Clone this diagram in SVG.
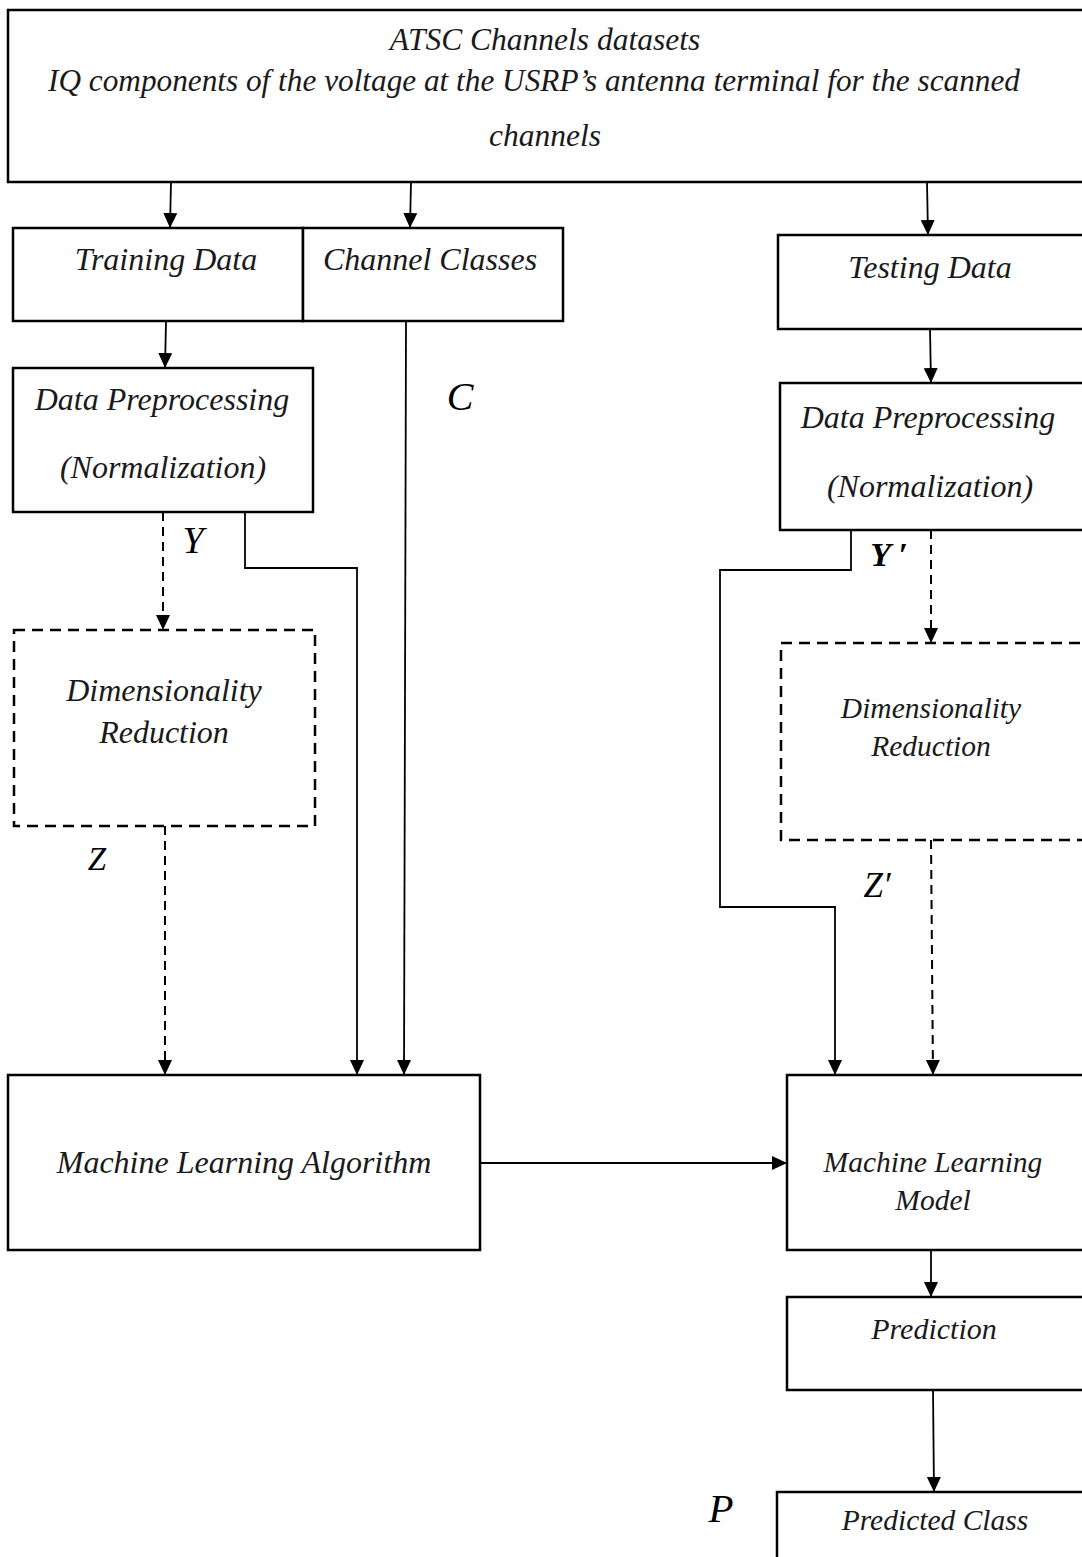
<svg xmlns="http://www.w3.org/2000/svg" width="1082" height="1557" viewBox="0 0 1082 1557">
  <style>
    .box { fill: #fff; stroke: #000; stroke-width: 2.5; }
    .dbox { fill: #fff; stroke: #000; stroke-width: 2.5; stroke-dasharray: 11 7; }
    .t { font-family: "Liberation Serif", "Times New Roman", serif; font-style: italic; fill: #1a1a1a; text-anchor: middle; font-size: 32px; }
    .s { font-size: 29.5px; }
    .lbl { font-family: "Liberation Serif", "Times New Roman", serif; font-style: italic; fill: #000; text-anchor: middle; }
    .c { fill: none; stroke: #000; stroke-width: 1.8; }
    .cd { fill: none; stroke: #000; stroke-width: 2; stroke-dasharray: 9 6; }
  </style>
  <defs>
    <marker id="arr" markerUnits="userSpaceOnUse" markerWidth="16" markerHeight="16" refX="15" refY="7" orient="auto">
      <path d="M0,0 L15,7 L0,14 Z" fill="#000"/>
    </marker>
  </defs>
  <rect width="1082" height="1557" fill="#fff"/>

  <!-- connectors -->
  <g id="connectors">
    <line class="c" x1="171" y1="182" x2="170" y2="228" marker-end="url(#arr)"/>
    <line class="c" x1="411" y1="182" x2="410" y2="228" marker-end="url(#arr)"/>
    <line class="c" x1="927" y1="182" x2="928" y2="235" marker-end="url(#arr)"/>
    <line class="c" x1="166" y1="321" x2="165" y2="368" marker-end="url(#arr)"/>
    <line class="c" x1="406" y1="321" x2="404" y2="1075" marker-end="url(#arr)"/>
    <line class="cd" x1="163" y1="512" x2="163" y2="630" marker-end="url(#arr)"/>
    <polyline class="c" points="245,512 245,568 357,568 357,1075" marker-end="url(#arr)"/>
    <line class="cd" x1="165" y1="826" x2="165" y2="1075" marker-end="url(#arr)"/>
    <line class="c" x1="930" y1="329" x2="931" y2="383" marker-end="url(#arr)"/>
    <polyline class="c" points="851,530 851,570 720,570 720,907 835,907 835,1075" marker-end="url(#arr)"/>
    <line class="cd" x1="931" y1="530" x2="931" y2="643" marker-end="url(#arr)"/>
    <line class="cd" x1="931" y1="840" x2="933" y2="1075" marker-end="url(#arr)"/>
    <line class="c" x1="480" y1="1163" x2="787" y2="1163" marker-end="url(#arr)"/>
    <line class="c" x1="931" y1="1250" x2="931" y2="1297" marker-end="url(#arr)"/>
    <line class="c" x1="933" y1="1390" x2="934" y2="1492" marker-end="url(#arr)"/>
  </g>

  <!-- source data -->
  <g id="atsc-datasets">
    <rect class="box" x="8" y="10" width="1080" height="172"/>
    <text class="t" x="545" y="50" style="font-size:31.5px">ATSC Channels datasets</text>
    <text class="t" x="534" y="91" style="font-size:31.5px" textLength="972" lengthAdjust="spacingAndGlyphs">IQ components of the voltage at the USRP’s antenna terminal for the scanned</text>
    <text class="t" x="545" y="146" style="font-size:31.5px">channels</text>
  </g>

  <g id="training-data">
    <rect class="box" x="13" y="228" width="290" height="93"/>
    <text class="t" x="166" y="270">Training Data</text>
  </g>
  <g id="channel-classes">
    <rect class="box" x="303" y="228" width="260" height="93"/>
    <text class="t" x="430" y="270">Channel Classes</text>
  </g>
  <g id="testing-data">
    <rect class="box" x="778" y="235" width="310" height="94"/>
    <text class="t" x="930" y="278">Testing Data</text>
  </g>

  <!-- training branch -->
  <g id="preprocessing-train">
    <rect class="box" x="13" y="368" width="300" height="144"/>
    <text class="t" x="162" y="410">Data Preprocessing</text>
    <text class="t" x="163" y="478">(Normalization)</text>
  </g>
  <g id="dimred-train">
    <rect class="dbox" x="14" y="630" width="301" height="196"/>
    <text class="t" x="164" y="701">Dimensionality</text>
    <text class="t" x="164" y="743">Reduction</text>
  </g>
  <g id="ml-algorithm">
    <rect class="box" x="8" y="1075" width="472" height="175"/>
    <text class="t" x="244" y="1173">Machine Learning Algorithm</text>
  </g>

  <!-- testing branch -->
  <g id="preprocessing-test">
    <rect class="box" x="780" y="383" width="308" height="147"/>
    <text class="t" x="928" y="428">Data Preprocessing</text>
    <text class="t" x="930" y="497">(Normalization)</text>
  </g>
  <g id="dimred-test">
    <rect class="dbox" x="781" y="643" width="307" height="197"/>
    <text class="t s" x="931" y="718">Dimensionality</text>
    <text class="t s" x="931" y="756">Reduction</text>
  </g>
  <g id="ml-model">
    <rect class="box" x="787" y="1075" width="301" height="175"/>
    <text class="t s" x="933" y="1172">Machine Learning</text>
    <text class="t s" x="933" y="1210">Model</text>
  </g>
  <g id="prediction">
    <rect class="box" x="787" y="1297" width="301" height="93"/>
    <text class="t" x="934" y="1339" style="font-size:30px">Prediction</text>
  </g>
  <g id="predicted-class">
    <rect class="box" x="777" y="1492" width="311" height="80"/>
    <text class="t s" x="935" y="1530">Predicted Class</text>
  </g>

  <!-- variable labels -->
  <g id="labels">
    <text class="lbl" x="460" y="410" font-size="40">C</text>
    <text class="lbl" x="193" y="553" font-size="38">Y</text>
    <text class="lbl" x="97" y="870" font-size="33">Z</text>
    <text class="lbl" x="889" y="566" font-size="34" font-weight="bold">Y ′</text>
    <text class="lbl" x="877" y="897" font-size="35">Z′</text>
    <text class="lbl" x="721" y="1522" font-size="41">P</text>
  </g>
</svg>
